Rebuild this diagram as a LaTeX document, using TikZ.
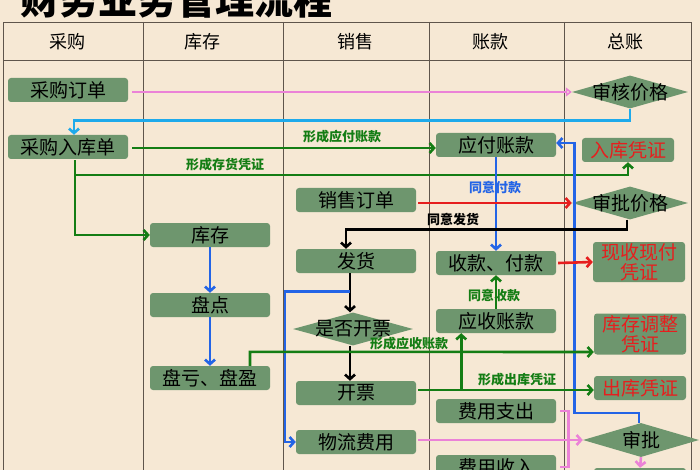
\documentclass[tikz,border=0pt]{standalone}
\usepackage{fontspec}
\usepackage{tikz}
\usetikzlibrary{calc,arrows,arrows.meta,shapes.geometric}
\setmainfont{Noto Sans CJK SC}
\definecolor{bgc}{RGB}{246,232,212}
\definecolor{boxc}{RGB}{110,150,110}
\definecolor{gridc}{RGB}{95,85,75}
\definecolor{grc}{RGB}{20,125,20}
\definecolor{blc}{RGB}{35,100,230}
\definecolor{cyc}{RGB}{30,170,235}
\definecolor{pkc}{RGB}{235,130,215}
\definecolor{rdc}{RGB}{230,30,30}

\begin{document}
\begin{tikzpicture}[x=1pt,y=-1pt,
        >={Straight Barb[length=4.5pt,width=10pt]},
        box/.style={rectangle, rounded corners=3pt, fill=boxc, minimum width=120pt, minimum height=24pt, inner sep=0pt, font=\fontsize{19}{21}\selectfont},
        vbox/.style={box, minimum width=92pt, text=rdc, align=center},
        dia/.style={diamond, fill=boxc, minimum width=116pt, minimum height=33pt, inner sep=0pt},
        hd/.style={font=\fontsize{18}{20}\selectfont},
        lbl/.style={font=\bfseries\fontsize{13}{15}\selectfont, inner sep=1pt},
        gridline/.style={draw=gridc, line width=0.9pt},
        con/.style={line width=2.6pt}]
        \useasboundingbox (0,0) rectangle (700,470);
        \fill [bgc] (0,0) rectangle (700,470);
        \node [anchor=base, font=\bfseries\fontsize{39}{40}\selectfont] (title) at (176,15) {财务业务管理流程};
        \draw [gridline] (3,22) rectangle (691,480);
        \draw [gridline] (3,60) -- (691,60);
        \draw [gridline] (143,22) -- (143,470);
        \draw [gridline] (283,22) -- (283,470);
        \draw [gridline] (429,22) -- (429,470);
        \draw [gridline] (564,22) -- (564,470);
        \node [hd] (hcg) at (67,42) {采购};
        \node [hd] (hkc) at (202,42) {库存};
        \node [hd] (hxs) at (355,42) {销售};
        \node [hd] (hzk) at (490,42) {账款};
        \node [hd] (hzz) at (625,42) {总账};
        \node [box] (cgdd) at (68,90) {采购订单};
        \node [box] (cgrk) at (68,147) {采购入库单};
        \node [box] (kucun) at (210,235) {库存};
        \node [box] (pandian) at (210,305) {盘点};
        \node [box] (pkpy) at (210,378) {盘亏、盘盈};
        \node [box] (xsdd) at (356,200) {销售订单};
        \node [box] (fahuo) at (356,261) {发货};
        \node [dia, minimum width=120pt, minimum height=33pt, label={[font=\fontsize{19}{21}\selectfont]center:是否开票}] (sfkp) at (353,329) {};
        \node [box] (kaipiao) at (356,393) {开票};
        \node [box] (wlfy) at (356,442) {物流费用};
        \node [box] (yfzk) at (496,145) {应付账款};
        \node [box] (sfk) at (496,263) {收款、付款};
        \node [box] (yszk) at (496,321) {应收账款};
        \node [box] (fyzc) at (496,411) {费用支出};
        \node [box] (fysr) at (496,467) {费用收入};
        \node [dia, label={[font=\fontsize{19}{21}\selectfont]center:审核价格}] (shjg) at (630,92) {};
        \node [vbox] (rkpz) at (628,150) {入库凭证};
        \node [dia, label={[font=\fontsize{19}{21}\selectfont]center:审批价格}] (spjg) at (630,203) {};
        \node [vbox, minimum height=40pt, font=\fontsize{19}{20}\selectfont] (xsxf) at (639,262) {现收现付\\凭证};
        \node [vbox, minimum height=41pt, font=\fontsize{19}{20}\selectfont] (kctz) at (640,334) {库存调整\\凭证};
        \node [vbox] (ckpz) at (640,388) {出库凭证};
        \node [dia, minimum height=34pt, label={[font=\fontsize{19}{21}\selectfont]center:审批}] (shenpi) at (641,440) {};
        \node [vbox] (spbot) at (640,480) {};
        \node [lbl, text=grc] (lyfzk) at (342,137) {形成应付账款};
        \node [lbl, text=grc] (lchpz) at (225,165) {形成存货凭证};
        \node [lbl, text=blc] (ltyfk) at (495,188) {同意付款};
        \node [lbl] (ltyfh) at (453,219) {同意发货};
        \node [lbl, text=grc] (ltysk) at (494,295) {同意收款};
        \node [lbl, text=grc] (lyszk) at (409,344) {形成应收账款};
        \node [lbl, text=grc] (lckpz) at (517,380) {形成出库凭证};
        \coordinate (gsplit) at ($(cgrk.south)+(7,16)$);
        \coordinate (bsplit) at ($(fahuo.south)+(-6,18)$);
        \coordinate (gys) at ($(kaipiao.east)+(45,-3)$);
        \draw [con, pkc, -{Triangle[open,length=6pt,width=9pt]}] ($(cgdd.east |- shjg.west)+(4,0)$) -- (shjg.west);
        \draw [con, cyc, ->] (shjg.south) -- ++(0,12) -| ($(cgrk.north)+(6,0)$);
        \draw [con, grc, ->] ($(cgrk.east)+(4,1)$) -- ($(yfzk.west)+(0,3)$);
        \draw [con, grc, ->] ($(cgrk.south)+(7,1)$) -- (gsplit) -| (rkpz.south);
        \draw [con, grc, ->] (gsplit) |- (kucun.west);
        \draw [con, blc, ->] (kucun.south) -- (pandian.north);
        \draw [con, blc, ->] (pandian.south) -- (pkpy.north);
        \draw [con, blc, ->] (yfzk.south) -- (sfk.north);
        \draw [con, blc, ->] ($(shenpi.north)+(-2,0)$) -- ++(0,-10) -| ($(yfzk.east)+(18,-2)$) -- ($(yfzk.east)+(0,-2)$);
        \draw [con, rdc, ->] ($(xsdd.east)+(2,3)$) -- (spjg.west);
        \draw [con, black, ->] ($(spjg.south)+(-3,0)$) -- ++(0,10) -| ($(fahuo.north)+(-10,0)$);
        \draw [con, black, ->] ($(fahuo.south)+(-6,0)$) -- ($(sfkp.north)+(-3,0)$);
        \draw [con, black, ->] ($(sfkp.south)+(-3,0)$) -- ($(kaipiao.north)+(-6,0)$);
        \draw [con, blc, ->] (bsplit) -- ++(-65,0) |- (wlfy.west);
        \draw [con, rdc, ->] ($(sfk.east)+(2,0)$) -- (xsxf.west);
        \draw [con, grc, ->] ($(kaipiao.east)+(2,-3)$) -- ($(ckpz.west)+(0,2)$);
        \draw [con, grc, ->] (gys) -- (gys |- yszk.south);
        \draw [con, grc, ->] ($(pkpy.north)+(40,0)$) -- ++(0,-14) -- ($(kctz.west)+(0,18)$);
        \draw [con, grc, ->] (yszk.north) -- (sfk.south);
        \draw [con, pkc, ->] ($(wlfy.east)+(2,-2)$) -- (shenpi.west);
        \draw [con, pkc] ($(fyzc.east)+(4,0)$) -- ++(8,0) |- ($(fysr.east)+(4,0)$);
        \draw [con, pkc, ->] (shenpi.south) -- (spbot.north);
    \end{tikzpicture}
\end{document}
